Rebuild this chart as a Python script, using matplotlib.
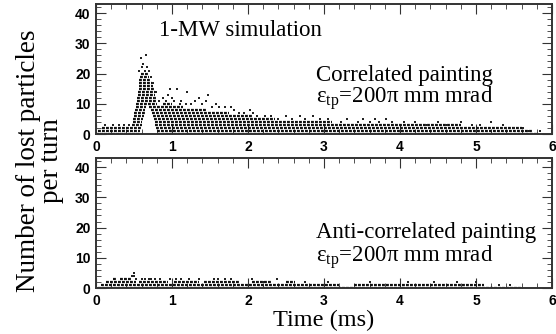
import matplotlib
matplotlib.use('Agg')
import matplotlib.pyplot as plt
from matplotlib.ticker import MultipleLocator

plt.rcParams.update({
    'font.family': 'sans-serif',
    'font.sans-serif': ['Liberation Sans', 'DejaVu Sans'],
    'mathtext.fontset': 'custom',
    'mathtext.rm': 'Liberation Serif',
    'mathtext.it': 'Liberation Serif:italic',
})

SERIF = 'Liberation Serif'

# ── Correlated painting: dense rows of lost-particle counts (level, t start, t end) ──
top_row_level = [0, 0, 1, 1, 2, 2, 3, 3, 4, 4, 5, 5, 6, 6, 7, 7, 8, 8, 9, 9,
                 10, 10, 10, 11, 12, 13, 14, 15, 16, 17, 18, 19, 20]
top_row_start = [0.00, 0.81, 0.03, 0.80, 0.08, 0.79, 0.48, 0.78, 0.49, 0.77,
                 0.49, 0.76, 0.50, 0.75, 0.50, 0.74, 0.51, 0.72, 0.52, 0.70,
                 0.53, 0.69, 0.88, 0.54, 0.54, 0.55, 0.55, 0.56, 0.56, 0.57,
                 0.57, 0.58, 0.59]
top_row_end = [0.57, 5.80, 0.58, 5.75, 0.59, 5.60, 0.60, 4.80, 0.61, 3.10,
               0.62, 2.35, 0.63, 2.05, 0.64, 1.75, 0.65, 1.45, 0.66, 1.15,
               0.67, 0.80, 1.00, 0.80, 0.79, 0.78, 0.77, 0.76, 0.75, 0.74,
               0.72, 0.70, 0.68]

# isolated turns above the dense band
top_pts_t = [0.12, 0.22, 0.30, 0.37, 0.43,
             0.59, 0.66, 0.62, 0.60, 0.64, 0.70, 0.67, 0.56, 0.73, 0.75, 0.79,
             0.78, 0.83, 0.88, 0.92, 0.95, 0.97, 1.00, 1.03, 1.06, 1.10, 1.12,
             1.18, 1.20, 1.25, 1.30, 1.35, 1.40, 1.45, 1.48, 1.52, 1.58, 1.62,
             1.70, 1.78, 1.82, 1.88, 1.95, 2.02, 2.07, 2.12, 2.22, 2.30, 2.40,
             2.50, 2.58, 2.68, 2.75, 2.86, 2.95, 3.05, 3.22, 3.30, 3.45, 3.51,
             3.60, 3.67, 3.72, 3.82, 3.90, 4.05, 4.20, 4.35, 4.50, 4.62, 4.80,
             4.95, 5.05, 5.20, 5.35, 5.50, 5.62, 5.70, 5.84]
top_pts_n = [3, 3, 3, 3, 3,
             25, 26, 23, 22, 21, 21, 22, 21, 19, 17, 14,
             12, 11, 12, 11, 13, 15, 12, 11, 15, 10, 11,
             10, 14, 10, 11, 12, 10, 11, 13, 9, 10, 9,
             9, 9, 8, 7, 7, 8, 7, 6, 6, 6, 5,
             6, 5, 6, 5, 6, 5, 5, 4, 5, 4, 5,
             4, 5, 4, 5, 4, 4, 4, 3, 4, 3, 4,
             3, 3, 4, 3, 2, 2, 1, 1]

# ── Anti-correlated painting ──
bot_row_level = [0, 1, 1, 2, 2, 2, 2, 2, 2, 3, 3]
bot_row_start = [0.02, 0.06, 3.40, 0.13, 0.56, 1.02, 1.42, 2.05, 2.50, 0.22, 0.32]
bot_row_end = [5.60, 3.20, 5.10, 0.52, 0.95, 1.35, 1.90, 2.30, 2.62, 0.28, 0.48]

bot_pts_t = [0.50, 0.50, 0.47, 0.53, 0.60, 0.64, 0.70, 0.73, 0.78, 0.84, 0.97,
             1.05, 1.12, 1.23, 1.35, 1.55, 1.60, 1.70, 1.78, 2.05, 2.20, 2.38,
             2.75, 3.05, 3.60, 4.10, 4.45, 4.75, 5.00, 5.30, 5.45]
bot_pts_n = [5, 4, 4, 3, 3, 3, 3, 3, 3, 3, 3,
             3, 3, 3, 3, 3, 3, 3, 3, 3, 2, 3,
             2, 2, 2, 2, 2, 2, 2, 1, 1]

x_ticks = [0, 1, 2, 3, 4, 5, 6]
y_ticks = [0, 10, 20, 30, 40]

fig = plt.figure(figsize=(5.56, 3.34), dpi=100)
ax1 = fig.add_axes([0.1727, 0.5988, 0.8201, 0.3892])
ax2 = fig.add_axes([0.1727, 0.1377, 0.8201, 0.3892])

panels = [
    (ax1, top_row_level, top_row_start, top_row_end, top_pts_t, top_pts_n),
    (ax2, bot_row_level, bot_row_start, bot_row_end, bot_pts_t, bot_pts_n),
]
for ax, lev, t0, t1, pt, pn in panels:
    ax.hlines(lev, t0, t1, colors='#111111', linewidth=1.6,
              linestyles=(0, (1.3, 0.5)))
    ax.plot(pt, pn, 's', color='#222222', ms=1.9, mew=0)
    ax.set_xlim(0, 6)
    ax.set_ylim(0, 43)
    ax.set_xticks(x_ticks)
    ax.set_yticks(y_ticks)
    ax.xaxis.set_minor_locator(MultipleLocator(0.2))
    ax.yaxis.set_minor_locator(MultipleLocator(2))
    ax.tick_params(which='both', direction='in', top=True, right=True,
                   labelsize=10, pad=4, color='#333333')
    ax.tick_params(which='major', length=7, width=0.8)
    ax.tick_params(which='minor', length=3.5, width=0.6)
    for lab in ax.get_xticklabels() + ax.get_yticklabels():
        lab.set_fontweight('bold')
    for sp in ax.spines.values():
        sp.set_linewidth(1.4)
        sp.set_color('#333333')

ax1.text(0.83, 34.4, '1-MW simulation', fontsize=16.5, family=SERIF,
         ha='left', va='center')
ax1.text(2.89, 19.5, 'Correlated painting', fontsize=16.5, family=SERIF,
         ha='left', va='center')
ax1.text(2.89, 11.9, r'ε$_{\rm tp}$=200π mm mrad', fontsize=16.5, family=SERIF,
         ha='left', va='center')
ax2.text(2.89, 18.5, 'Anti-correlated painting', fontsize=16.5, family=SERIF,
         ha='left', va='center')
ax2.text(2.89, 10.3, r'ε$_{\rm tp}$=200π mm mrad', fontsize=16.5, family=SERIF,
         ha='left', va='center')

fig.text(0.072, 0.518, 'Number of lost particles\nper turn', rotation=90,
         fontsize=19.5, family=SERIF, ha='center', va='center', linespacing=0.9)
fig.text(0.582, 0.024, 'Time (ms)', fontsize=17.5, family=SERIF,
         ha='center', va='baseline')

fig.savefig('out.png', dpi=100)
